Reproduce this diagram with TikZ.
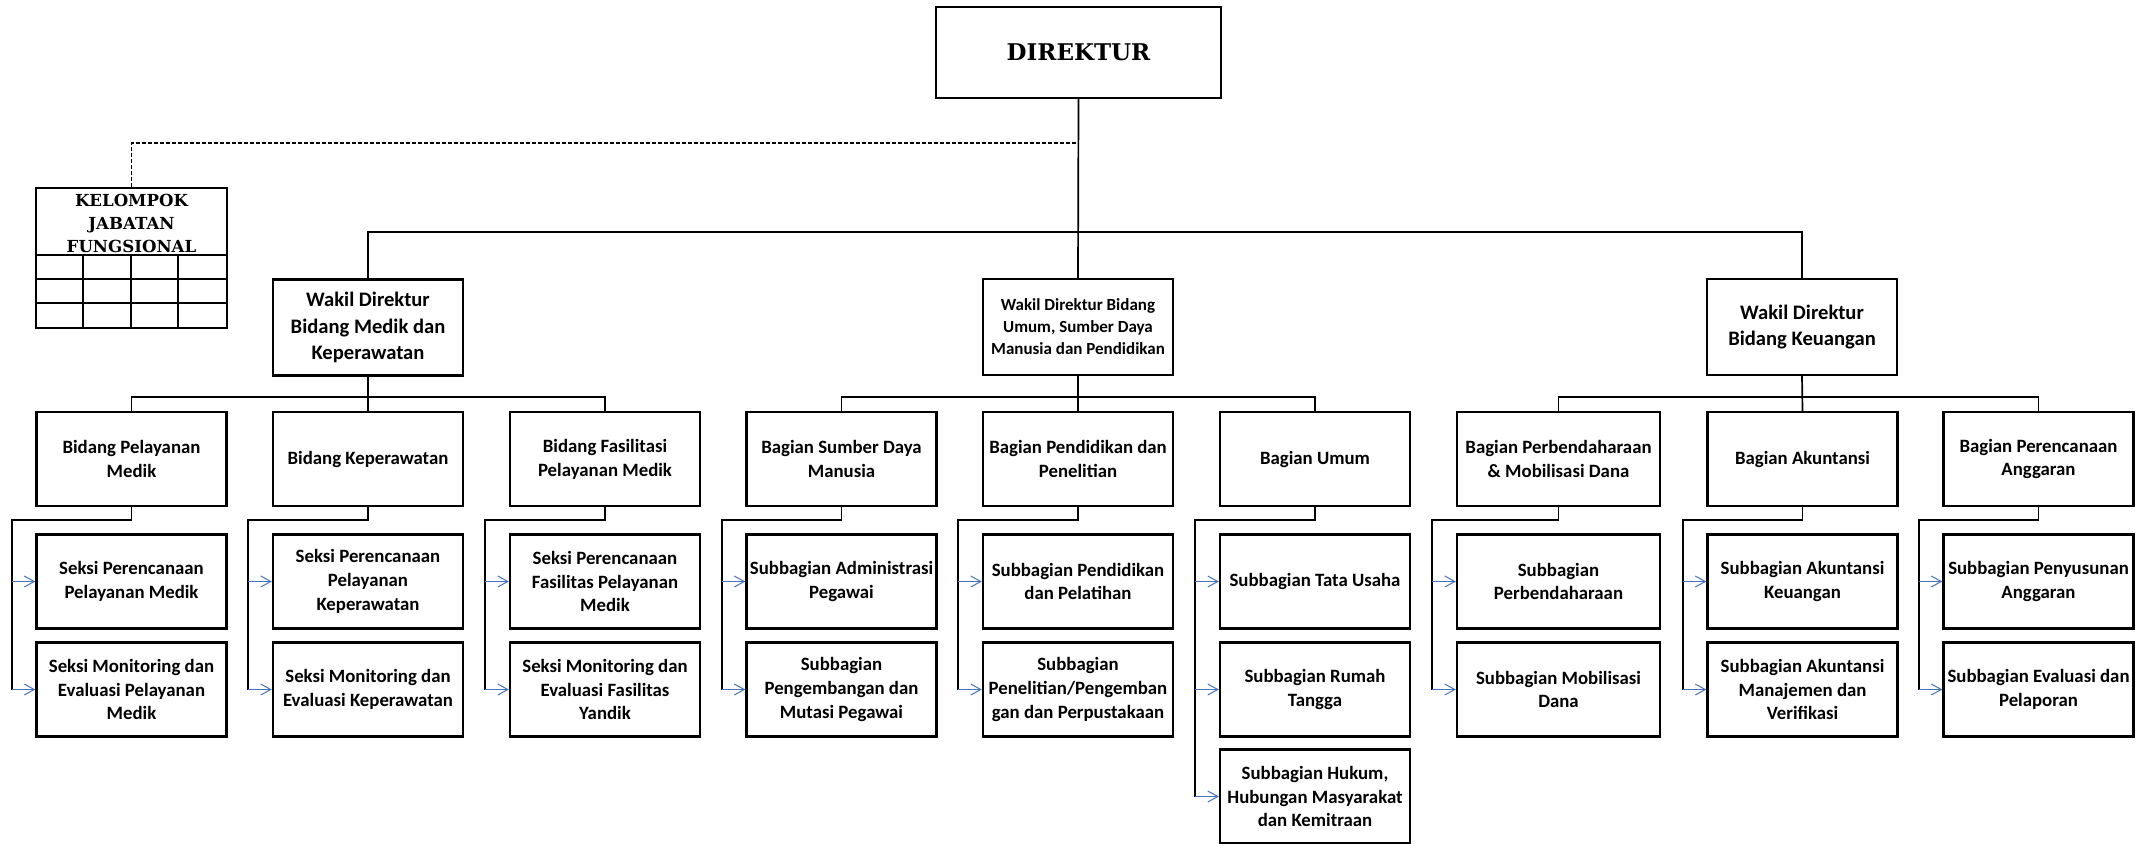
\documentclass[tikz,border=0pt]{standalone}
\usepackage{fontspec}
\setmainfont{Carlito}
\newfontfamily\bookfont{DejaVu Serif}
\usepackage{tikz}
\usetikzlibrary{arrows.meta}
\usetikzlibrary{calc}
\definecolor{arrblue}{RGB}{68,114,196}

\begin{document}
\begin{tikzpicture}
    [
    x=0.5pt, y=-0.5pt,
    box/.style = {draw, line width=1.2pt, minimum width=95pt, minimum height=47pt, inner sep=1pt, align=center, font=\bfseries\fontsize{9.4}{11.9}\selectfont},
    wakil/.style = {box, minimum height=48pt, font=\bfseries\fontsize{10.3}{13.3}\selectfont},
    link/.style = {line width=0.85pt},
    arr/.style = {draw=arrblue, line width=0.5pt, -{Straight Barb[length=5pt,width=5.5pt]}}
    ]
\useasboundingbox (0,0) rectangle (2136,843);

% top
\node[box, minimum width=142.5pt, minimum height=45.5pt, font=\bookfont\bfseries\fontsize{11.5}{14}\selectfont] (dir) at (1078.5,52.5) {DIREKTUR};
\node[box, minimum width=95.5pt, minimum height=70pt] (kjf) at (131.5,258) {};
\node[inner sep=0pt, align=center, font=\bookfont\bfseries\fontsize{8.3}{11.5}\selectfont] (kjft) at (131.5,223) {KELOMPOK\\JABATAN\\FUNGSIONAL};
\foreach \yy in {255,279,303}
    \draw[line width=1.2pt] (kjf.west |- 0,\yy) -- (kjf.east |- 0,\yy);
\foreach \xx in {83,131,178}
    \draw[line width=1.2pt] (\xx,255) -- (kjf.south -| \xx,0);

\node[wakil] (wd1) at (368,327.5) {Wakil Direktur\\Bidang Medik dan\\Keperawatan};
\node[wakil, font=\bfseries\fontsize{8.5}{11}\selectfont] (wd2) at (1078,327) {Wakil Direktur Bidang\\Umum, Sumber Daya\\Manusia dan Pendidikan};
\node[wakil] (wd3) at (1802,327) {Wakil Direktur\\Bidang Keuangan};

% bidang / bagian
\node[box] (bpm) at (131.5,459) {Bidang Pelayanan\\Medik};
\node[box] (bkp) at (368,459) {Bidang Keperawatan};
\node[box] (bfp) at (605,459) {Bidang Fasilitasi\\Pelayanan Medik};
\node[box] (bsdm) at (841.5,459) {Bagian Sumber Daya\\Manusia};
\node[box] (bpp) at (1078,459) {Bagian Pendidikan dan\\Penelitian};
\node[box] (bum) at (1315,459) {Bagian Umum};
\node[box, minimum width=101.5pt] (bpmd) at (1558.5,459) {Bagian Perbendaharaan\\\& Mobilisasi Dana};
\node[box] (bak) at (1802.5,459) {Bagian Akuntansi};
\node[box] (bpa) at (2038.5,459) {Bagian Perencanaan\\Anggaran};

% seksi / subbagian
\node[box] (s11) at (131.5,581.5) {Seksi Perencanaan\\Pelayanan Medik};
\node[box] (s12) at (131.5,689.5) {Seksi Monitoring dan\\Evaluasi Pelayanan\\Medik};
\node[box] (s21) at (368,581.5) {Seksi Perencanaan\\Pelayanan\\Keperawatan};
\node[box] (s22) at (368,689.5) {Seksi Monitoring dan\\Evaluasi Keperawatan};
\node[box] (s31) at (605,581.5) {Seksi Perencanaan\\Fasilitas Pelayanan\\Medik};
\node[box] (s32) at (605,689.5) {Seksi Monitoring dan\\Evaluasi Fasilitas\\Yandik};
\node[box] (s41) at (841.5,581.5) {Subbagian Administrasi\\Pegawai};
\node[box] (s42) at (841.5,689.5) {Subbagian\\Pengembangan dan\\Mutasi Pegawai};
\node[box] (s51) at (1078,581.5) {Subbagian Pendidikan\\dan Pelatihan};
\node[box] (s52) at (1078,689.5) {Subbagian\\Penelitian/Pengemban\\gan dan Perpustakaan};
\node[box] (s61) at (1315,581.5) {Subbagian Tata Usaha};
\node[box] (s62) at (1315,689.5) {Subbagian Rumah\\Tangga};
\node[box] (s63) at (1315,796.5) {Subbagian Hukum,\\Hubungan Masyarakat\\dan Kemitraan};
\node[box, minimum width=101.5pt] (s71) at (1558.5,581.5) {Subbagian\\Perbendaharaan};
\node[box, minimum width=101.5pt] (s72) at (1558.5,689.5) {Subbagian Mobilisasi\\Dana};
\node[box] (s81) at (1802.5,581.5) {Subbagian Akuntansi\\Keuangan};
\node[box] (s82) at (1802.5,689.5) {Subbagian Akuntansi\\Manajemen dan\\Verifikasi};
\node[box] (s91) at (2038.5,581.5) {Subbagian Penyusunan\\Anggaran};
\node[box] (s92) at (2038.5,689.5) {Subbagian Evaluasi dan\\Pelaporan};

% lines from the top
\draw[link] (dir.south) -- (wd2.north);
\draw[link] (wd1.north) -- ++(0,-46) -| (wd3.north);
\coordinate (jf) at ($(dir.south)+(0,44)$);
\draw[link, dash pattern=on 2pt off 1pt] (kjf.north) |- (jf);

\draw[link] (wd1.south) -- (bkp.north);
\draw[link] (bpm.north) -- ++(0,-14) -| (bfp.north);
\draw[link] (wd2.south) -- (bpp.north);
\draw[link] (bsdm.north) -- ++(0,-14) -| (bum.north);
\draw[link] (wd3.south) -- (bak.north);
\draw[link] (bpmd.north) -- ++(0,-14) -| (bpa.north);

% elbows to the units below
\draw[link] (bpm.south) -- ++(0,13) -| ([xshift=-11.75pt]s12.west);
\draw[arr] ([xshift=-11.75pt]s11.west) -- (s11.west);
\draw[arr] ([xshift=-11.75pt]s12.west) -- (s12.west);
\draw[link] (bkp.south) -- ++(0,13) -| ([xshift=-11.75pt]s22.west);
\draw[arr] ([xshift=-11.75pt]s21.west) -- (s21.west);
\draw[arr] ([xshift=-11.75pt]s22.west) -- (s22.west);
\draw[link] (bfp.south) -- ++(0,13) -| ([xshift=-11.75pt]s32.west);
\draw[arr] ([xshift=-11.75pt]s31.west) -- (s31.west);
\draw[arr] ([xshift=-11.75pt]s32.west) -- (s32.west);
\draw[link] (bsdm.south) -- ++(0,13) -| ([xshift=-11.75pt]s42.west);
\draw[arr] ([xshift=-11.75pt]s41.west) -- (s41.west);
\draw[arr] ([xshift=-11.75pt]s42.west) -- (s42.west);
\draw[link] (bpp.south) -- ++(0,13) -| ([xshift=-11.75pt]s52.west);
\draw[arr] ([xshift=-11.75pt]s51.west) -- (s51.west);
\draw[arr] ([xshift=-11.75pt]s52.west) -- (s52.west);
\draw[link] (bum.south) -- ++(0,13) -| ([xshift=-11.75pt]s63.west);
\draw[arr] ([xshift=-11.75pt]s61.west) -- (s61.west);
\draw[arr] ([xshift=-11.75pt]s62.west) -- (s62.west);
\draw[arr] ([xshift=-11.75pt]s63.west) -- (s63.west);
\draw[link] (bpmd.south) -- ++(0,13) -| ([xshift=-11.75pt]s72.west);
\draw[arr] ([xshift=-11.75pt]s71.west) -- (s71.west);
\draw[arr] ([xshift=-11.75pt]s72.west) -- (s72.west);
\draw[link] (bak.south) -- ++(0,13) -| ([xshift=-11.75pt]s82.west);
\draw[arr] ([xshift=-11.75pt]s81.west) -- (s81.west);
\draw[arr] ([xshift=-11.75pt]s82.west) -- (s82.west);
\draw[link] (bpa.south) -- ++(0,13) -| ([xshift=-11.75pt]s92.west);
\draw[arr] ([xshift=-11.75pt]s91.west) -- (s91.west);
\draw[arr] ([xshift=-11.75pt]s92.west) -- (s92.west);
\end{tikzpicture}
\end{document}
